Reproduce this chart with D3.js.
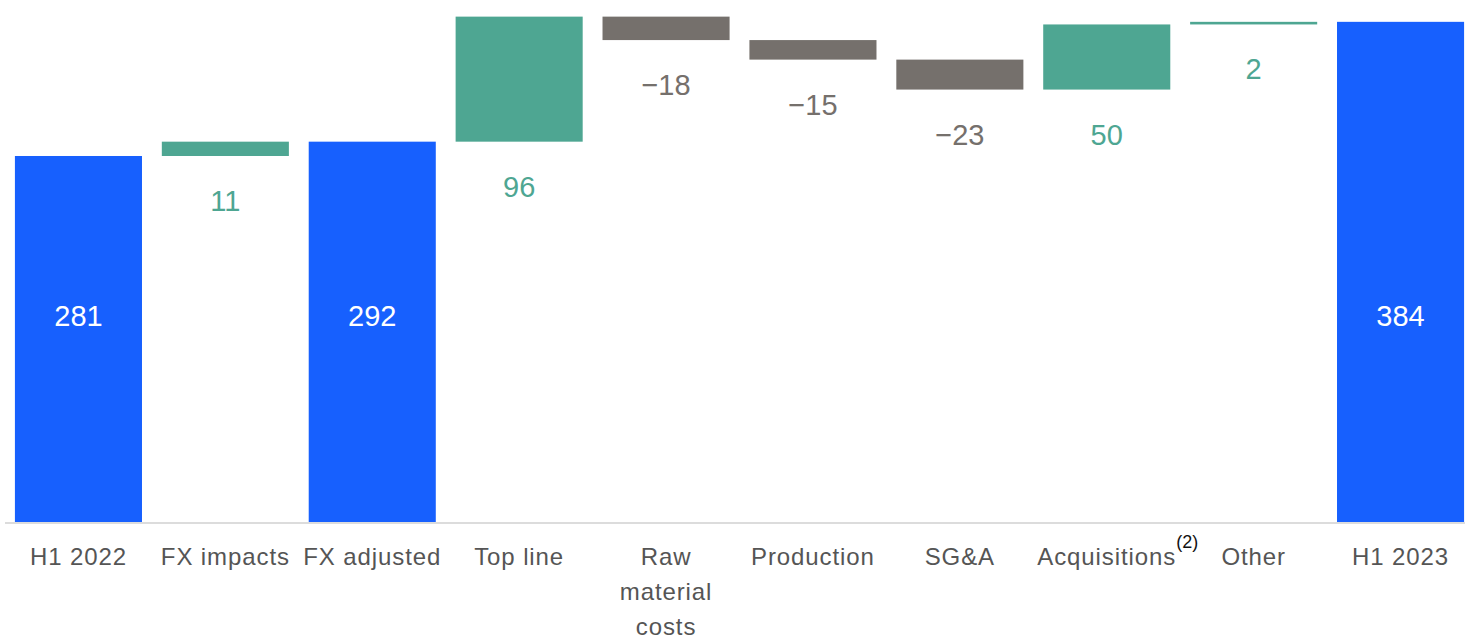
<!DOCTYPE html>
<html><head><meta charset="utf-8">
<script src="https://cdn.jsdelivr.net/npm/d3@7/dist/d3.min.js"></script>
<style>html,body{margin:0;padding:0;background:#fff;}svg{display:block;}</style>
</head><body>
<script>
const categories = ["H1 2022","FX impacts","FX adjusted","Top line","Raw material costs","Production","SG&A","Acquisitions","Other","H1 2023"];
const labelLines = [["H1 2022"],["FX impacts"],["FX adjusted"],["Top line"],["Raw","material","costs"],["Production"],["SG&A"],["Acquisitions"],["Other"],["H1 2023"]];
const superscripts = ["","","","","","","","(2)","",""];
const values = [281, 11, 292, 96, -18, -15, -23, 50, 2, 384];
const kinds = ["total","delta","total","delta","delta","delta","delta","delta","delta","total"];
const valueLabels = ["281","11","292","96","\u221218","\u221215","\u221223","50","2","384"];

const W = 1465, H = 638;
const colors = {total:"#1760FE", pos:"#4EA692", neg:"#75706C"};
const font = "'Liberation Sans', Arial, sans-serif";

const svg = d3.select("body").append("svg").attr("width", W).attr("height", H);

let running = 0;
const data = categories.map((c, i) => {
  let start, end;
  if (kinds[i] === "total") { start = 0; end = values[i]; running = values[i]; }
  else { start = running; end = running + values[i]; running = end; }
  return {cat: c, i, start, end, value: values[i], kind: kinds[i]};
});

const x = d3.scaleBand().domain(categories).range([5, 1474]).paddingInner(0.135).paddingOuter(0.0675);
const y = d3.scaleLinear().domain([0, 400]).range([522, 1]);

function colorOf(d){ return d.kind === "total" ? colors.total : (d.value >= 0 ? colors.pos : colors.neg); }

svg.append("g").selectAll("rect").data(data).join("rect")
  .attr("x", d => x(d.cat))
  .attr("width", x.bandwidth())
  .attr("y", d => y(Math.max(d.start, d.end)))
  .attr("height", d => Math.abs(y(d.start) - y(d.end)))
  .attr("fill", colorOf);

// baseline
svg.append("line").attr("x1", 5).attr("x2", W).attr("y1", y(0) + 1).attr("y2", y(0) + 1)
  .attr("stroke", "#dcdcdc").attr("stroke-width", 2);

// value labels
const vl = svg.append("g").attr("font-family", font).attr("font-size", 29).attr("text-anchor", "middle");
vl.selectAll("text").data(data).join("text")
  .attr("x", d => x(d.cat) + x.bandwidth() / 2)
  .attr("y", d => d.kind === "total" ? y(158) + 10 : y(Math.min(d.start, d.end)) + 55)
  .attr("fill", d => d.kind === "total" ? "#ffffff" : colorOf(d))
  .text((d, i) => valueLabels[i]);

// category labels
const cl = svg.append("g").attr("font-family", font).attr("font-size", 24).attr("letter-spacing", 0.9)
  .attr("fill", "#555555").attr("text-anchor", "middle");
data.forEach((d, i) => {
  const cx = x(d.cat) + x.bandwidth() / 2;
  const t = cl.append("text").attr("x", cx).attr("y", 565);
  labelLines[i].forEach((ln, k) => {
    t.append("tspan").attr("x", cx).attr("dy", k === 0 ? 0 : 35).text(ln);
  });
  if (superscripts[i]) {
    const len = t.node().getComputedTextLength();
    cl.append("text").attr("x", cx + len / 2).attr("y", 548).attr("text-anchor", "start")
      .attr("letter-spacing", 0).attr("font-size", 18).attr("fill", "#111").text(superscripts[i]);
  }
});
</script>
</body></html>
